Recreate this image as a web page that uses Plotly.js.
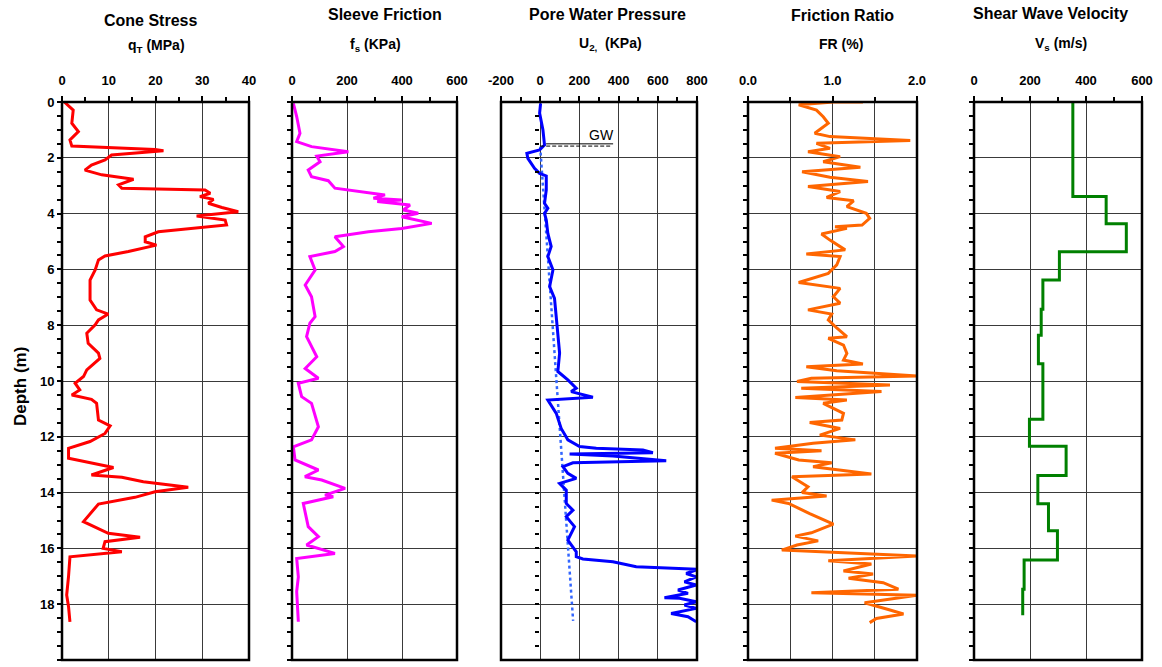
<!DOCTYPE html>
<html><head><meta charset="utf-8">
<script src="https://cdn.plot.ly/plotly-3.0.1.min.js"></script>
<style>html,body{margin:0;padding:0;background:#fff}#chart{width:1162px;height:667px}</style>
</head><body><div id="chart"></div>
<script>
// ---- Data (depth in m) ----
const qtDepth = [0.0,0.29,0.76,1.06,1.36,1.58,1.70,1.75,1.90,2.08,2.26,2.44,2.61,2.77,2.97,3.09,3.15,3.27,3.39,3.49,3.63,3.78,3.93,4.09,4.23,4.41,4.65,4.83,5.01,5.13,5.36,5.52,5.66,6.02,6.38,7.1,7.45,7.6,7.81,7.99,8.29,8.65,9.0,9.19,9.6,9.84,10.08,10.32,10.5,10.66,10.8,11.4,11.61,11.88,12.17,12.41,12.77,12.93,13.1,13.37,13.45,13.61,13.81,13.97,14.17,14.41,15.04,15.46,15.6,15.76,16.0,16.12,16.3,17.0,17.67,18.09,18.63];
const qtVal   = [0.5,2.4,2.1,3.5,1.7,2.1,19.9,21.7,10.6,9.2,6.3,4.9,8.5,15.3,12.1,12.8,30.6,31.7,29.5,32.4,31.3,34.2,37.7,28.8,34.9,35.2,20.6,17.8,17.8,20.2,14.2,9.2,7.8,7.1,6.0,6.0,7.4,9.9,7.8,7.1,5.3,5.6,7.8,8.1,5.3,4.6,2.8,3.8,2.1,6.3,7.4,7.8,10.3,9.2,6.0,1.4,1.4,6.3,11.0,6.3,12.8,17.4,27.0,19.9,15.6,7.8,4.6,9.9,16.7,9.2,8.8,12.8,1.7,1.4,1.0,1.4,1.7];

const fsDepth = [0.05,0.52,1.12,1.42,1.60,1.78,1.94,2.14,2.44,2.68,2.82,3.09,3.33,3.45,3.51,3.57,3.69,3.87,3.99,4.11,4.35,4.53,4.65,4.83,5.18,5.36,5.54,6.02,6.56,6.98,7.69,7.93,8.41,9.13,9.55,9.9,10.08,10.56,10.8,11.64,12.11,12.36,12.83,13.19,13.43,13.55,13.85,14.09,14.15,14.39,15.22,15.58,15.88,16.18,16.36,17.02,17.55,18.63];
const fsVal   = [5,17,29,17,71,205,90,102,59,71,132,156,338,296,399,310,429,405,459,399,508,399,278,156,187,156,65,84,48,71,84,65,53,90,48,96,23,35,71,96,71,5,11,96,47,108,193,120,150,41,59,96,53,156,17,23,17,23];

const u2Depth = [0.05,0.4,1.0,1.54,1.72,1.84,2.02,2.38,2.56,2.65,3.15,3.63,3.81,3.99,4.23,4.71,5.18,5.54,6.02,6.62,7.04,7.69,8.41,9.0,9.66,9.96,10.26,10.38,10.58,10.68,11.16,11.7,12.11,12.35,12.41,12.47,12.57,12.62,12.69,12.77,12.86,12.93,13.07,13.31,13.49,13.67,13.91,14.39,14.63,14.86,15.22,15.7,15.88,16.12,16.3,16.38,16.48,16.66,16.75,16.9,17.02,17.2,17.31,17.49,17.61,17.77,17.79,17.91,18.03,18.15,18.33,18.45,18.63];
const u2Val   = [2,-3,14,22,-3,-68,-63,-29,-3,31,31,22,39,22,31,39,56,39,65,48,73,82,90,99,90,141,184,158,269,39,82,107,141,201,286,524,575,150,371,507,643,167,116,141,184,99,133,133,167,133,175,141,158,184,184,218,371,490,805,745,796,736,796,703,754,634,711,796,736,796,668,754,796];

const hydroDepth = [1.6, 18.6];
const hydroVal   = [0, 168];

const frDepth = [0.0,0.0,0.1,0.29,0.53,0.76,1.12,1.24,1.38,1.48,1.66,1.78,1.96,2.14,2.34,2.5,2.70,2.85,3.03,3.21,3.42,3.54,3.75,3.99,4.17,4.41,4.47,4.53,4.73,4.95,5.30,5.45,5.54,5.84,6.14,6.47,6.68,6.98,7.21,7.45,7.60,7.81,8.1,8.41,8.47,8.71,9.01,9.25,9.39,9.49,9.63,9.82,9.9,10.02,10.14,10.26,10.38,10.59,10.68,10.8,11.16,11.4,11.49,11.7,11.94,12.11,12.23,12.41,12.5,12.59,12.83,12.93,13.07,13.33,13.43,13.79,14.0,14.12,14.27,14.39,14.75,15.13,15.44,15.56,15.73,15.88,16.06,16.27,16.44,16.56,16.81,16.92,17.07,17.23,17.46,17.59,17.68,17.95,18.19,18.35,18.51,18.66];
const frVal   = [1.36,1.01,0.6,0.81,0.89,0.95,0.79,0.97,1.92,0.81,0.97,0.71,1.09,0.89,1.33,0.64,0.97,1.42,0.71,1.09,0.93,1.25,1.17,1.40,1.44,1.35,1.03,1.17,0.87,0.97,1.15,0.69,1.09,1.05,0.95,0.6,1.09,1.01,1.09,0.71,0.99,0.95,1.05,1.17,0.95,1.13,1.17,1.13,1.36,0.69,1.05,2.0,0.75,0.58,1.68,0.63,1.58,0.56,1.17,0.89,1.13,1.11,0.73,1.09,0.85,1.27,0.77,0.32,0.87,0.32,0.6,0.99,0.77,1.46,0.52,0.71,0.64,0.93,0.28,0.48,0.73,1.01,0.75,0.56,0.83,0.58,0.4,2.0,0.95,1.46,1.13,1.48,1.19,1.60,1.78,0.75,2.0,1.38,1.66,1.84,1.52,1.44];

const vsDepth = [0,3.39,4.36,5.37,6.38,7.43,8.36,9.38,11.37,12.34,13.39,14.4,15.37,16.42,17.46,18.4];
const vsVal   = [353,472,544,305,246,240,230,246,198,329,228,266,298,179,174,174];

const panelTitles = ['Cone Stress','Sleeve Friction','Pore Water Pressure','Friction Ratio','Shear Wave Velocity'];
const panelUnits  = ['q<sub>T</sub> (MPa)','f<sub>s</sub> (KPa)','U<sub>2,</sub>  (KPa)','FR (%)','V<sub>s</sub> (m/s)'];
const depthTicks  = [0,2,4,6,8,10,12,14,16,18,20];
const qtTicks = [0,10,20,30,40];
const fsTicks = [0,200,400,600];
const u2Ticks = [-200,0,200,400,600,800];
const u2TickText = ['-200','0','200','400','600','800'];
const frTicks = [0,1,2];
const frTickText = ['0.0','1.0','2.0'];
const vsTicks = [0,200,400,600];

// ---- Layout helpers ----
const W = 1162, H = 667;
const px = v => v / W;
const py = v => 1 - v / H;
const yDom = [py(660), py(102)];
const xDoms = [[62,249],[292,457],[501,697],[748,917],[974,1142]];
const FONT = 'Liberation Sans, Arial, sans-serif';
const GRID = '#3a3a3a';

const traces = [
  {x: qtVal, y: qtDepth, xaxis:'x', yaxis:'y', mode:'lines', line:{color:'#ff0000', width:3}},
  {x: fsVal, y: fsDepth, xaxis:'x2', yaxis:'y2', mode:'lines', line:{color:'#ff00ff', width:3}},
  {x: hydroVal, y: hydroDepth, xaxis:'x3', yaxis:'y3', mode:'lines', line:{color:'#3366ff', width:2.5, dash:'dot'}},
  {x: u2Val, y: u2Depth, xaxis:'x3', yaxis:'y3', mode:'lines', line:{color:'#0000ff', width:3}},
  {x: frVal, y: frDepth, xaxis:'x4', yaxis:'y4', mode:'lines', line:{color:'#ff6600', width:3}},
  {x: vsVal, y: vsDepth, xaxis:'x5', yaxis:'y5', mode:'lines', line:{color:'#008000', width:3, shape:'vh'}}
];

const tickFont = {family: FONT, size: 13, color:'#000', weight: 700};
function xAx(i, range, tickvals, ticktext, minorDtick, extra) {
  return Object.assign({
    domain: [px(xDoms[i][0]), px(xDoms[i][1])],
    anchor: i === 0 ? 'y' : 'y' + (i+1),
    side: 'top', range: range, tickmode: 'array', tickvals: tickvals, ticktext: ticktext,
    showgrid: true, gridcolor: GRID, gridwidth: 1,
    zeroline: false, showline: false,
    ticks: 'outside', ticklen: 5, tickwidth: 2, tickcolor: '#000',
    ticklabelstandoff: 6,
    minor: {dtick: minorDtick, tick0: range[0], ticks: 'outside', ticklen: 4, tickwidth: 2, tickcolor:'#000', showgrid: false},
    tickfont: tickFont, automargin: false, fixedrange: true
  }, extra || {});
}
function yAx(i, extra) {
  return Object.assign({
    domain: yDom,
    anchor: i === 0 ? 'x' : 'x' + (i+1),
    range: [20, 0], tickmode: 'array', tickvals: depthTicks,
    showgrid: true, gridcolor: GRID, gridwidth: 1,
    zeroline: false, showline: false,
    ticks: 'outside', ticklen: 4, tickwidth: 2, tickcolor: '#000',
    minor: {dtick: 0.5, ticks: 'outside', ticklen: 4, tickwidth: 2, tickcolor:'#000', showgrid: false},
    showticklabels: i === 0, tickfont: tickFont, automargin: false, fixedrange: true
  }, extra || {});
}

const layout = {
  width: W, height: H,
  margin: {l:0, r:0, t:0, b:0},
  paper_bgcolor: '#fff', plot_bgcolor: '#fff',
  showlegend: false,
  font: {family: FONT, color: '#000'},
  xaxis:  xAx(0, [0, 40], qtTicks, qtTicks.map(String), 5),
  xaxis2: xAx(1, [0, 600], fsTicks, fsTicks.map(String), 100),
  xaxis3: xAx(2, [-200, 800], u2Ticks, u2TickText, 100),
  xaxis4: xAx(3, [0, 2], frTicks, frTickText, 0.5,
              {minor:{tickmode:'array', tickvals:[0.5,1.5], ticks:'outside', ticklen:4, tickwidth:2, tickcolor:'#000', showgrid:true, gridcolor:GRID, gridwidth:1}}),
  xaxis5: xAx(4, [0, 600], vsTicks, vsTicks.map(String), 100),
  yaxis:  yAx(0),
  yaxis2: yAx(1),
  yaxis3: yAx(2, {anchor:'free', position: px(539)}),
  yaxis4: yAx(3),
  yaxis5: yAx(4),
  shapes: [],
  annotations: []
};

// panel frames
xDoms.forEach(d => {
  layout.shapes.push({type:'rect', xref:'paper', yref:'paper', x0:px(d[0]), x1:px(d[1]), y0:yDom[0], y1:yDom[1], line:{color:'#000', width:2.5}, layer:'above'});
});
// GW marker
layout.shapes.push({type:'line', xref:'x3', yref:'y3', x0:30, x1:372, y0:1.5, y1:1.5, line:{color:'#000', width:1}});
layout.shapes.push({type:'line', xref:'x3', yref:'y3', x0:0, x1:357, y0:1.58, y1:1.58, line:{color:'#000', width:1, dash:'4px,2px'}});
layout.annotations.push({xref:'x3', yref:'y3', x:311, y:1.18, text:'GW', showarrow:false, font:{family:FONT, size:14, color:'#000'}});

// titles
const titleX = [150, 385, 607, 842, 1050];
const titleY = [20, 15, 15, 16, 13];
const unitX  = [156, 375, 610, 841, 1061];
const unitY  = [46, 45, 44, 44, 44];
for (let i = 0; i < 5; i++) {
  layout.annotations.push({xref:'paper', yref:'paper', x:px(titleX[i]), y:py(titleY[i]), text:panelTitles[i], showarrow:false, xanchor:'center', yanchor:'middle', font:{family:FONT, size:16, color:'#000', weight:700}});
  layout.annotations.push({xref:'paper', yref:'paper', x:px(unitX[i]), y:py(unitY[i]), text:panelUnits[i], showarrow:false, xanchor:'center', yanchor:'middle', font:{family:FONT, size:14, color:'#000', weight:700}});
}
layout.annotations.push({xref:'paper', yref:'paper', x:px(20), y:py(386), text:'Depth (m)', textangle:-90, showarrow:false, xanchor:'center', yanchor:'middle', font:{family:FONT, size:17, color:'#000', weight:700}});

Plotly.newPlot('chart', traces, layout, {staticPlot:true, displayModeBar:false});
</script></body></html>
